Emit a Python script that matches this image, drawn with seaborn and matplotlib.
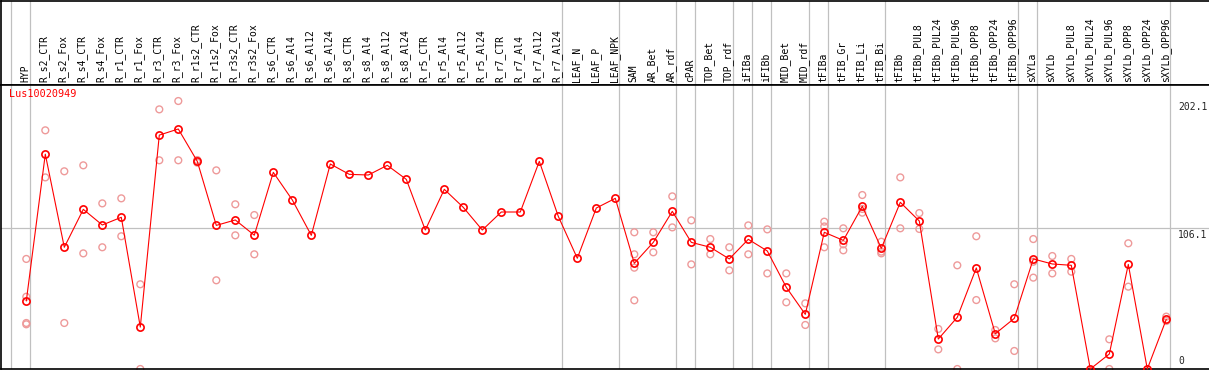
import seaborn as sns
import matplotlib.pyplot as plt
import pandas as pd

categories = [
    "HYP", "R_s2_CTR", "R_s2_Fox", "R_s4_CTR", "R_s4_Fox", "R_r1_CTR", "R_r1_Fox",
    "R_r3_CTR", "R_r3_Fox", "R_r1s2_CTR", "R_r1s2_Fox", "R_r3s2_CTR", "R_r3s2_Fox",
    "R_s6_CTR", "R_s6_Al4", "R_s6_Al12", "R_s6_Al24", "R_s8_CTR", "R_s8_Al4",
    "R_s8_Al12", "R_s8_Al24", "R_r5_CTR", "R_r5_Al4", "R_r5_Al12", "R_r5_Al24",
    "R_r7_CTR", "R_r7_Al4", "R_r7_Al12", "R_r7_Al24", "LEAF_N", "LEAF_P", "LEAF_NPK",
    "SAM", "AR_Bet", "AR_rdf", "cPAR", "TOP_Bet", "TOP_rdf", "iFIBa", "iFIBb",
    "MID_Bet", "MID_rdf", "tFIBa", "tFIB_Gr", "tFIB_Li", "tFIB_Bi", "tFIBb",
    "tFIBb_PUL8", "tFIBb_PUL24", "tFIBb_PUL96", "tFIBb_OPP8", "tFIBb_OPP24",
    "tFIBb_OPP96", "sXYLa", "sXYLb", "sXYLb_PUL8", "sXYLb_PUL24", "sXYLb_PUL96",
    "sXYLb_OPP8", "sXYLb_OPP24", "sXYLb_OPP96",
]

mean_values = [
    51.3, 162.0, 91.8, 120.4, 108.6, 114.4, 31.6, 176.4, 181.0, 156.6, 108.3,
    112.4, 100.9, 148.3, 127.5, 100.8, 154.6, 146.8, 146.3, 153.6, 143.0, 104.8,
    135.5, 121.9, 104.8, 118.4, 118.4, 156.6, 115.1, 83.5, 121.4, 128.7, 79.7,
    95.5, 118.9, 95.5, 91.8, 83.0, 97.8, 89.0, 61.6, 41.2, 103.1, 97.0, 122.7,
    91.0, 125.7, 111.6, 22.6, 39.0, 76.2, 26.6, 38.2, 83.0, 79.2, 78.2, 0.0,
    11.3, 78.9, 0.0, 37.5,
]

rep_values = [
    [83.0, 54.5, 34.7, 33.7], [180.0, 144.5], [149.1, 34.7], [153.6, 87.2],
    [124.9, 91.8], [128.7, 100.1], [63.9, 0.0], [195.8, 157.4], [202.1, 157.4],
    [157.6, 155.6], [149.8, 66.9], [124.2, 100.8], [116.1, 86.5],
    [], [], [], [], [], [], [], [], [], [], [], [], [], [], [], [], [], [], [],
    [103.1, 86.5, 76.4, 51.8], [103.1, 88.0], [130.2, 106.8], [112.1, 78.9],
    [98.0, 86.5], [91.8, 74.4], [108.3, 86.5], [105.3, 72.1], [72.1, 50.3],
    [49.5, 33.2], [111.1, 107.5, 91.8], [106.1, 94.0, 89.5],
    [131.2, 120.7, 117.9], [96.0, 88.5, 87.2], [144.5, 106.1], [117.6, 105.6],
    [30.2, 14.8], [78.2, 0.0], [100.1, 52.0], [29.4, 23.1], [63.9, 13.6],
    [98.0, 80.9, 68.9], [85.2, 72.1], [83.0, 73.4], [], [22.4, 0.0],
    [94.8, 62.1], [], [39.5, 36.2],
]

# last sample index of each group (separators drawn just after)
group_ends = [-1, 0, 28, 31, 34, 35, 37, 38, 39, 41, 42, 45, 52, 53, 60]
y_marks = [0, 106.1, 202.1]
gene = "Lus10020949"

sns.set_style("white")
plt.rcParams['font.family'] = ['DejaVu Sans Mono', 'DejaVu Sans']

df_mean = pd.DataFrame({"pos": range(len(categories)), "value": mean_values})
rows = []
for i, reps in enumerate(rep_values):
    for v in reps:
        rows.append({"pos": i, "value": v})
df_rep = pd.DataFrame(rows)

W, H = 1209, 370
fig = plt.figure(figsize=(W / 100, H / 100), dpi=100)
ax_h = fig.add_axes([1 / W, (H - 85) / H, 1208 / W, 84.3 / H])
ax = fig.add_axes([1 / W, 1 / H, 1208 / W, 284 / H])

xlim = ((1 - 26.3) / 19, (1209 - 26.3) / 19)
for a in (ax_h, ax):
    a.set_xlim(xlim)
    a.set_xticks([])
    a.set_yticks([])
    for side in ("left", "top", "bottom"):
        a.spines[side].set_color("black")
        a.spines[side].set_linewidth(1.2)
    a.spines["right"].set_visible(False)
    for g in group_ends:
        a.axvline(g + 0.2, color="#c0c0c0", linewidth=0.9, zorder=0)

ax_h.set_ylim(0, 1)
for i, name in enumerate(categories):
    ax_h.annotate(name, xy=(i - 0.05, 0), xytext=(0, 2.3), textcoords="offset points",
                  rotation=90, ha="center", va="bottom", fontsize=7, color="black")

ax.set_ylim(0, 284 / 1.326)
ax.axhline(106.1, color="#c0c0c0", linewidth=0.9, zorder=0)

sns.scatterplot(data=df_rep, x="pos", y="value", ax=ax, facecolor="none",
                edgecolor="#ee9a9a", linewidth=1.0, s=24, clip_on=False, zorder=2)
sns.lineplot(data=df_mean, x="pos", y="value", ax=ax, color="red", linewidth=0.8,
             marker="o", markersize=5.2, markerfacecolor="none",
             markeredgecolor="red", markeredgewidth=1.2, clip_on=False, zorder=3)
ax.set_xlabel("")
ax.set_ylabel("")

for v in y_marks:
    if v == 0:
        ax.annotate("0", xy=(60.62, v), xytext=(0, 2.5), textcoords="offset points",
                    ha="left", va="bottom", fontsize=7)
    else:
        ax.annotate(f"{v}", xy=(60.62, v), xytext=(0, -1), textcoords="offset points",
                    ha="left", va="top", fontsize=7)

ax.annotate(gene, xy=(0, 1), xycoords="axes fraction", xytext=(6, -3),
            textcoords="offset points", ha="left", va="top", fontsize=7.3, color="red")

plt.savefig("out.png", dpi=100)
